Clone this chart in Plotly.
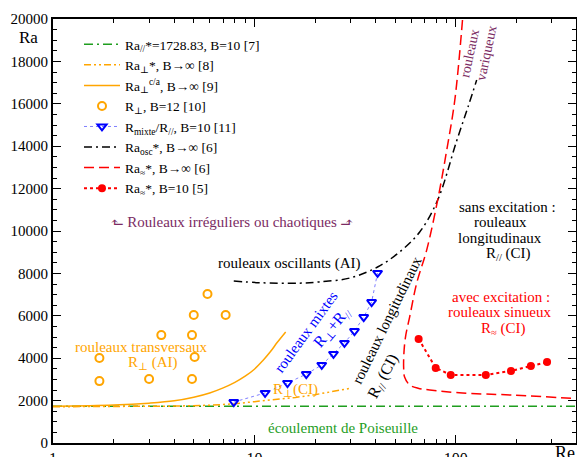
import plotly.graph_objects as go

# ---------------- data ----------------
green_x = [1, 395]
green_y = [1728.83, 1728.83]

perp_star_x = [1, 2, 4, 6, 8, 10, 13, 16, 20, 25, 30]
perp_star_y = [1710, 1715, 1740, 1780, 1850, 1950, 2060, 2150, 2280, 2440, 2580]

perp_ca_x = [1, 2, 3, 4, 5, 6, 7, 8, 9, 10, 11, 12, 13, 14.3]
perp_ca_y = [1730, 1790, 1880, 1990, 2160, 2360, 2600, 2860, 3150, 3480, 3880, 4300, 4750, 5240]

rperp_x = [1.7, 1.7, 3.0, 3.45, 4.9, 4.9, 5.05, 5.0, 5.85, 7.2]
rperp_y = [4010, 2920, 3020, 5090, 5090, 3020, 4060, 6040, 7030, 6040]

mixte_x = [7.9, 11.3, 14.6, 18.1, 21.6, 24.7, 28.0, 31.4, 34.9, 38.2, 40.9]
mixte_y = [1930, 2360, 2830, 3250, 3680, 4200, 4720, 5280, 5940, 6650, 8020]

osc_x = [7.9, 10.6, 16.7, 21.0, 29.7, 40.9, 52.6, 66.2, 81.3, 101, 115, 127]
osc_y = [7640, 7560, 7540, 7600, 7780, 8300, 9010, 9950, 11460, 14250, 15850, 17120]

sin_inf_x = [108, 98.9, 90.2, 81.3, 71.7, 64.0, 59.0, 56.5, 55.4, 55.1, 55.7, 59.0, 65.0, 74.3, 108, 192, 395]
sin_inf_y = [19950, 16180, 13820, 11460, 9100, 7550, 5940, 5100, 4390, 3580, 3110, 2740, 2580, 2500, 2360, 2260, 2100]

sin_b10_x = [65.4, 79.5, 94.4, 141, 188, 236, 284]
sin_b10_y = [4910, 3540, 3210, 3210, 3400, 3630, 3820]

x_tick_vals = [1, 10, 100]
x_tick_text = ["1", "10", "100"]

# ---------------- styling ----------------
GREEN = "#1f9e1f"
ORANGE = "#ffa500"
BLUE = "#0000ff"
RED = "#ff0000"
PURPLE = "#7b2b63"
FONT = "Times New Roman, Liberation Serif, DejaVu Serif, serif"

W, H = 577, 457
L, R, T, B = 53, 1, 19, 14


def pp(px, py):
    """pixel position -> paper coordinates (for text placement)"""
    return (px - L) / (W - L - R), (H - B - py) / (H - T - B)


fig = go.Figure()
fig.add_trace(go.Scatter(x=green_x, y=green_y, mode="lines",
                         line=dict(color=GREEN, width=1.5, dash="9px,4px,2px,4px"),
                         name="Ra<sub>//</sub>*=1728.83, B=10 [7]"))
fig.add_trace(go.Scatter(x=perp_star_x, y=perp_star_y, mode="lines",
                         line=dict(color=ORANGE, width=1.5, dash="7px,3px,2px,3px,2px,3px"),
                         name="Ra<sub>⊥</sub>*, B→∞ [8]"))
fig.add_trace(go.Scatter(x=perp_ca_x, y=perp_ca_y, mode="lines", line_shape="spline",
                         line=dict(color=ORANGE, width=1.5),
                         name="Ra<sub>⊥</sub><sup>c/a</sup>, B→∞ [9]"))
fig.add_trace(go.Scatter(x=rperp_x, y=rperp_y, mode="markers",
                         marker=dict(symbol="circle-open", size=8, color=ORANGE, line=dict(width=2)),
                         name="R<sub>⊥</sub>, B=12 [10]"))
fig.add_trace(go.Scatter(x=mixte_x, y=mixte_y, mode="lines+markers",
                         line=dict(color="#7f7fff", width=1, dash="dot"),
                         marker=dict(symbol="triangle-down-open", size=8, color=BLUE, line=dict(width=2, color=BLUE)),
                         name="R<sub>mixte</sub>/R<sub>//</sub>, B=10 [11]"))
fig.add_trace(go.Scatter(x=osc_x, y=osc_y, mode="lines", line_shape="spline",
                         line=dict(color="black", width=1.5, dash="8px,4px,2px,4px"),
                         name="Ra<sub>osc</sub>*, B→∞ [6]"))
fig.add_trace(go.Scatter(x=sin_inf_x, y=sin_inf_y, mode="lines", line_shape="spline",
                         line=dict(color=RED, width=1.5, dash="10px,5px"),
                         name="Ra<sub>≈</sub>*, B→∞ [6]"))
fig.add_trace(go.Scatter(x=sin_b10_x, y=sin_b10_y, mode="lines+markers",
                         line=dict(color=RED, width=2, dash="dot"),
                         marker=dict(symbol="circle", size=8, color=RED),
                         name="Ra<sub>≈</sub>*, B=10 [5]"))

ann = []


def text(px, py, s, color="black", size=15, angle=0):
    x, y = pp(px, py)
    ann.append(dict(x=x, y=y, xref="paper", yref="paper", text=s, showarrow=False,
                    font=dict(family=FONT, size=size, color=color), textangle=angle,
                    xanchor="center", yanchor="middle"))


text(28, 38, "Ra", size=17)
text(565, 453, "Re", size=18)
text(232, 222, "⬑ Rouleaux irréguliers ou chaotiques ⬏", PURPLE, 15)
text(289, 263, "rouleaux oscillants (AI)", size=15)
text(141, 347, "rouleaux transversaux", ORANGE, 15)
text(152, 363, "R<sub>⊥</sub> (AI)", ORANGE, 15)
text(306, 332, "rouleaux mixtes", BLUE, 15, -54)
text(332, 327, "R<sub>⊥</sub>+R<sub>//</sub>", BLUE, 16, -50)
text(295, 390, "R<sub>⊥</sub>(CI)", ORANGE, 15)
text(387, 320, "rouleaux longitudinaux", "black", 15, -64)
text(383, 376, "R<sub>//</sub> (CI)", "black", 16, -62)
text(470, 54, "rouleaux", PURPLE, 14, -78)
text(486, 53, "variqueux", PURPLE, 14, -78)
text(507, 207, "sans excitation :", size=15)
text(500, 222, "rouleaux", size=15)
text(500, 238, "longitudinaux", size=15)
text(508, 254, "R<sub>//</sub> (CI)", size=15)
text(501, 297, "avec excitation :", RED, 15)
text(499, 312, "rouleaux sinueux", RED, 15)
text(503, 329, "R<sub>≈</sub> (CI)", RED, 15)
text(343, 428, "écoulement de Poiseuille", GREEN, 15)

lx, ly = pp(79, 29)
fig.update_layout(
    width=W, height=H,
    margin=dict(l=L, r=R, t=T, b=B, autoexpand=False),
    paper_bgcolor="white", plot_bgcolor="white",
    font=dict(family=FONT, size=14, color="black"),
    showlegend=True,
    legend=dict(x=lx, y=ly, xanchor="left", yanchor="top", bgcolor="rgba(0,0,0,0)",
                font=dict(family=FONT, size=13.5), tracegroupgap=0, itemwidth=36),
    annotations=ann,
    xaxis=dict(type="log", range=[0, 2.597], showgrid=False, zeroline=False, automargin=False,
               showline=True, linecolor="black", linewidth=2, mirror="ticks",
               ticks="inside", ticklen=8, tickwidth=1.2, tickcolor="black",
               tickvals=x_tick_vals, ticktext=x_tick_text,
               tickfont=dict(family=FONT, size=16),
               minor=dict(ticks="inside", ticklen=4, tickcolor="black", dtick="D1", showgrid=False)),
    yaxis=dict(range=[0, 20000], showgrid=False, zeroline=False, automargin=False,
               showline=True, linecolor="black", linewidth=2, mirror="ticks",
               ticks="inside", ticklen=8, tickwidth=1.2, tickcolor="black",
               dtick=2000, tickformat="d", tickfont=dict(family=FONT, size=15),
               minor=dict(ticks="inside", ticklen=4, tickcolor="black", dtick=500, showgrid=False)),
)

fig.write_html("out.html", config={"displayModeBar": False},
               post_script="document.body.style.margin='0';")
